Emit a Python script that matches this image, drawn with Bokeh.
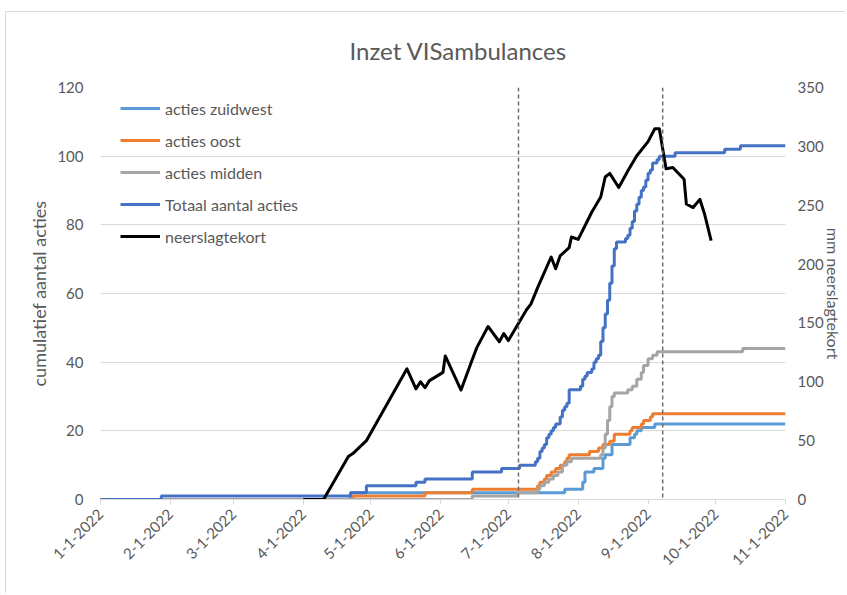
import pandas as pd
from math import pi
from bokeh.plotting import figure
from bokeh.models import Range1d, LinearAxis, FixedTicker, Span
from bokeh.embed import file_html
from bokeh.resources import INLINE

# ---------------- data ----------------
title_text = "Inzet VISambulances"
left_title = "cumulatief aantal acties"
right_title = "mm neerslagtekort"

month_ticks = ["01-01", "02-01", "03-01", "04-01", "05-01", "06-01",
               "07-01", "08-01", "09-01", "10-01", "11-01"]
tick_labels = ["1-1-2022", "2-1-2022", "3-1-2022", "4-1-2022", "5-1-2022", "6-1-2022",
               "7-1-2022", "8-1-2022", "9-1-2022", "10-1-2022", "11-1-2022"]
left_ticks = [0, 20, 40, 60, 80, 100, 120]
right_ticks = [0, 50, 100, 150, 200, 250, 300, 350]

markers = ["07-05 12:00", "09-07 12:00"]

zuidwest_dates = ["01-01", "04-22", "07-26", "08-03", "08-04", "08-08", "08-12", "08-13",
                  "08-16", "08-24", "08-26", "08-27", "08-29", "09-04", "11-01"]
zuidwest_vals = [0, 2, 3, 5, 8, 9, 12, 13, 16, 18, 19, 20, 21, 22, 22]

oost_dates = ["01-01", "04-23", "05-25", "06-15", "07-14", "07-15", "07-17", "07-18",
              "07-20", "07-22", "07-24", "07-26", "07-27", "07-28", "08-06", "08-10",
              "08-12", "08-15", "08-17", "08-24", "08-25", "08-29", "08-30", "09-02",
              "09-03", "11-01"]
oost_vals = [0, 1, 2, 3, 4, 5, 6, 7, 8, 9, 10, 11, 12, 13, 14, 15, 16, 17, 19, 20, 21,
             22, 23, 24, 25, 25]

midden_dates = ["01-01", "06-15", "07-05", "07-14", "07-15", "07-17", "07-19", "07-21",
                "07-23", "07-25", "07-27", "07-29", "08-11", "08-12", "08-13", "08-14",
                "08-15", "08-16", "08-17", "08-23", "08-25", "08-27", "08-29", "08-30",
                "09-01", "09-03", "09-05", "10-13", "11-01"]
midden_vals = [0, 1, 2, 3, 4, 5, 6, 7, 8, 10, 11, 12, 13, 15, 19, 23, 27, 30, 31, 32,
               33, 35, 37, 39, 41, 42, 43, 44, 44]

totaal_dates = ["01-01", "01-28", "04-22", "04-29", "05-21", "05-25", "06-15", "06-28",
                "07-06", "07-13", "07-14", "07-15", "07-16", "07-17", "07-18", "07-19",
                "07-20", "07-21", "07-22", "07-24", "07-25", "07-26", "07-27", "07-28",
                "08-02", "08-03", "08-04", "08-05", "08-07", "08-08", "08-09", "08-10",
                "08-11", "08-12", "08-13", "08-14", "08-15", "08-16", "08-17", "08-18",
                "08-22", "08-23", "08-24", "08-25", "08-26", "08-27", "08-28", "08-29",
                "08-30", "08-31", "09-01", "09-02", "09-03", "09-05", "09-06", "09-13",
                "10-05", "10-12", "11-01"]
totaal_vals = [0, 1, 2, 4, 5, 6, 8, 9, 10, 11, 12, 14, 15, 16, 18, 19, 20, 21, 22, 24,
               26, 27, 28, 32, 33, 35, 36, 37, 38, 40, 41, 42, 46, 50, 54, 58, 63, 68,
               73, 75, 76, 77, 79, 81, 84, 86, 88, 90, 91, 93, 95, 96, 98, 99, 100, 101,
               102, 103, 103]

neerslag_dates = ["04-01", "04-10", "04-21", "04-23", "04-29", "05-17", "05-21", "05-23",
                  "05-25", "05-27", "06-02", "06-03", "06-10", "06-15", "06-17", "06-22",
                  "06-27", "06-29", "07-01", "07-05", "07-09", "07-11", "07-14", "07-20",
                  "07-22", "07-24", "07-28", "07-29", "08-01", "08-07", "08-11", "08-13",
                  "08-15", "08-19", "08-23", "08-27", "09-01", "09-04", "09-06", "09-09",
                  "09-12", "09-17", "09-18", "09-21", "09-24", "09-26", "09-29"]
neerslag_vals = [0, 0, 36.5, 39, 50, 111, 94, 100, 95, 101, 108, 122, 93, 119, 129, 147,
                 134, 141, 135, 148, 161, 166, 180, 206, 196, 207, 214, 223, 221, 244,
                 257, 274, 277, 265, 279, 292, 304, 315, 315, 281, 282, 272, 251, 248,
                 255, 243, 220]


def dt(lst):
    return pd.to_datetime(["2022-" + d for d in lst])


def ms(s):
    return pd.Timestamp("2022-" + s).value / 1e6


# ---------------- figure ----------------
TXT = "#595959"
GRID = "#D9D9D9"
FONT = "Lato"

p = figure(width=840, height=582, x_axis_type="datetime",
           x_range=Range1d(ms("01-01"), ms("11-01")),
           y_range=Range1d(0, 120),
           output_backend="svg", toolbar_location=None,
           min_border_left=94, min_border_right=61,
           min_border_top=75, min_border_bottom=95)
p.outline_line_color = None
p.background_fill_color = "white"
p.border_fill_color = "white"
p.styles = {"margin-left": "5px", "margin-top": "11px",
            "border-top": "1px solid #d9d9d9", "border-left": "1px solid #d9d9d9"}

# title
p.title.text = title_text
p.title.align = "left"
p.title.offset = 249
p.title.vertical_align = "top"
p.title.standoff = 42
p.title.text_color = TXT
p.title.text_font = FONT
p.title.text_font_size = "24px"
p.title.text_font_style = "normal"

p.extra_y_ranges = {"mm": Range1d(0, 350)}

# x axis
xa = p.xaxis[0]
xa.ticker = FixedTicker(ticks=[ms(m) for m in month_ticks])
xa.major_label_overrides = {ms(m): lab for m, lab in zip(month_ticks, tick_labels)}
xa.major_label_orientation = pi / 4
xa.axis_line_color = GRID
xa.major_tick_line_color = GRID
xa.major_tick_out = 5
xa.major_tick_in = 0
xa.minor_tick_line_color = None
xa.minor_tick_out = 0
xa.major_label_text_color = TXT
xa.major_label_text_font = FONT
xa.major_label_text_font_size = "15px"
xa.major_label_standoff = 7


def style_y(ax, standoff, label, label_standoff, label_size):
    ax.axis_line_color = None
    ax.major_tick_line_color = None
    ax.minor_tick_line_color = None
    ax.major_tick_out = 0
    ax.major_tick_in = 0
    ax.minor_tick_out = 0
    ax.minor_tick_in = 0
    ax.major_label_text_color = TXT
    ax.major_label_text_font = FONT
    ax.major_label_text_font_size = "15px"
    ax.major_label_standoff = standoff
    ax.axis_label = label
    ax.axis_label_standoff = label_standoff
    ax.axis_label_text_color = TXT
    ax.axis_label_text_font = FONT
    ax.axis_label_text_font_size = label_size
    ax.axis_label_text_font_style = "normal"


ya = p.yaxis[0]
ya.ticker = FixedTicker(ticks=left_ticks)
style_y(ya, 17, left_title, 4, "18px")

ra = LinearAxis(y_range_name="mm", ticker=FixedTicker(ticks=right_ticks))
style_y(ra, 12, right_title, -3, "16px")
p.add_layout(ra, "right")

p.xgrid.grid_line_color = None
p.ygrid.grid_line_color = GRID
p.ygrid.grid_line_width = 1
p.ygrid.ticker = FixedTicker(ticks=left_ticks)

# series
LW = 3
p.step(dt(zuidwest_dates), zuidwest_vals, mode="after", line_color="#5B9BD5",
       line_width=LW, legend_label="acties zuidwest")
p.step(dt(oost_dates), oost_vals, mode="after", line_color="#ED7D31",
       line_width=LW, legend_label="acties oost")
p.step(dt(midden_dates), midden_vals, mode="after", line_color="#A5A5A5",
       line_width=LW, legend_label="acties midden")
p.step(dt(totaal_dates), totaal_vals, mode="after", line_color="#4472C4",
       line_width=LW, legend_label="Totaal aantal acties")
p.line(dt(neerslag_dates), neerslag_vals, y_range_name="mm", line_color="black",
       line_width=LW, line_join="round", legend_label="neerslagtekort")

for m in markers:
    p.add_layout(Span(location=ms(m), dimension="height", line_color="#6E6E6E",
                      line_width=1.5, line_dash="4 3"))

# legend
lg = p.legend[0]
lg.location = (20, 253)
lg.margin = 0
lg.padding = 0
lg.spacing = 12
lg.glyph_width = 40
lg.glyph_height = 20
lg.label_height = 20
lg.label_standoff = 5
lg.border_line_color = None
lg.background_fill_alpha = 0
lg.label_text_color = TXT
lg.label_text_font = FONT
lg.label_text_font_size = "16px"

open("out.html", "w").write(file_html(p, INLINE))
